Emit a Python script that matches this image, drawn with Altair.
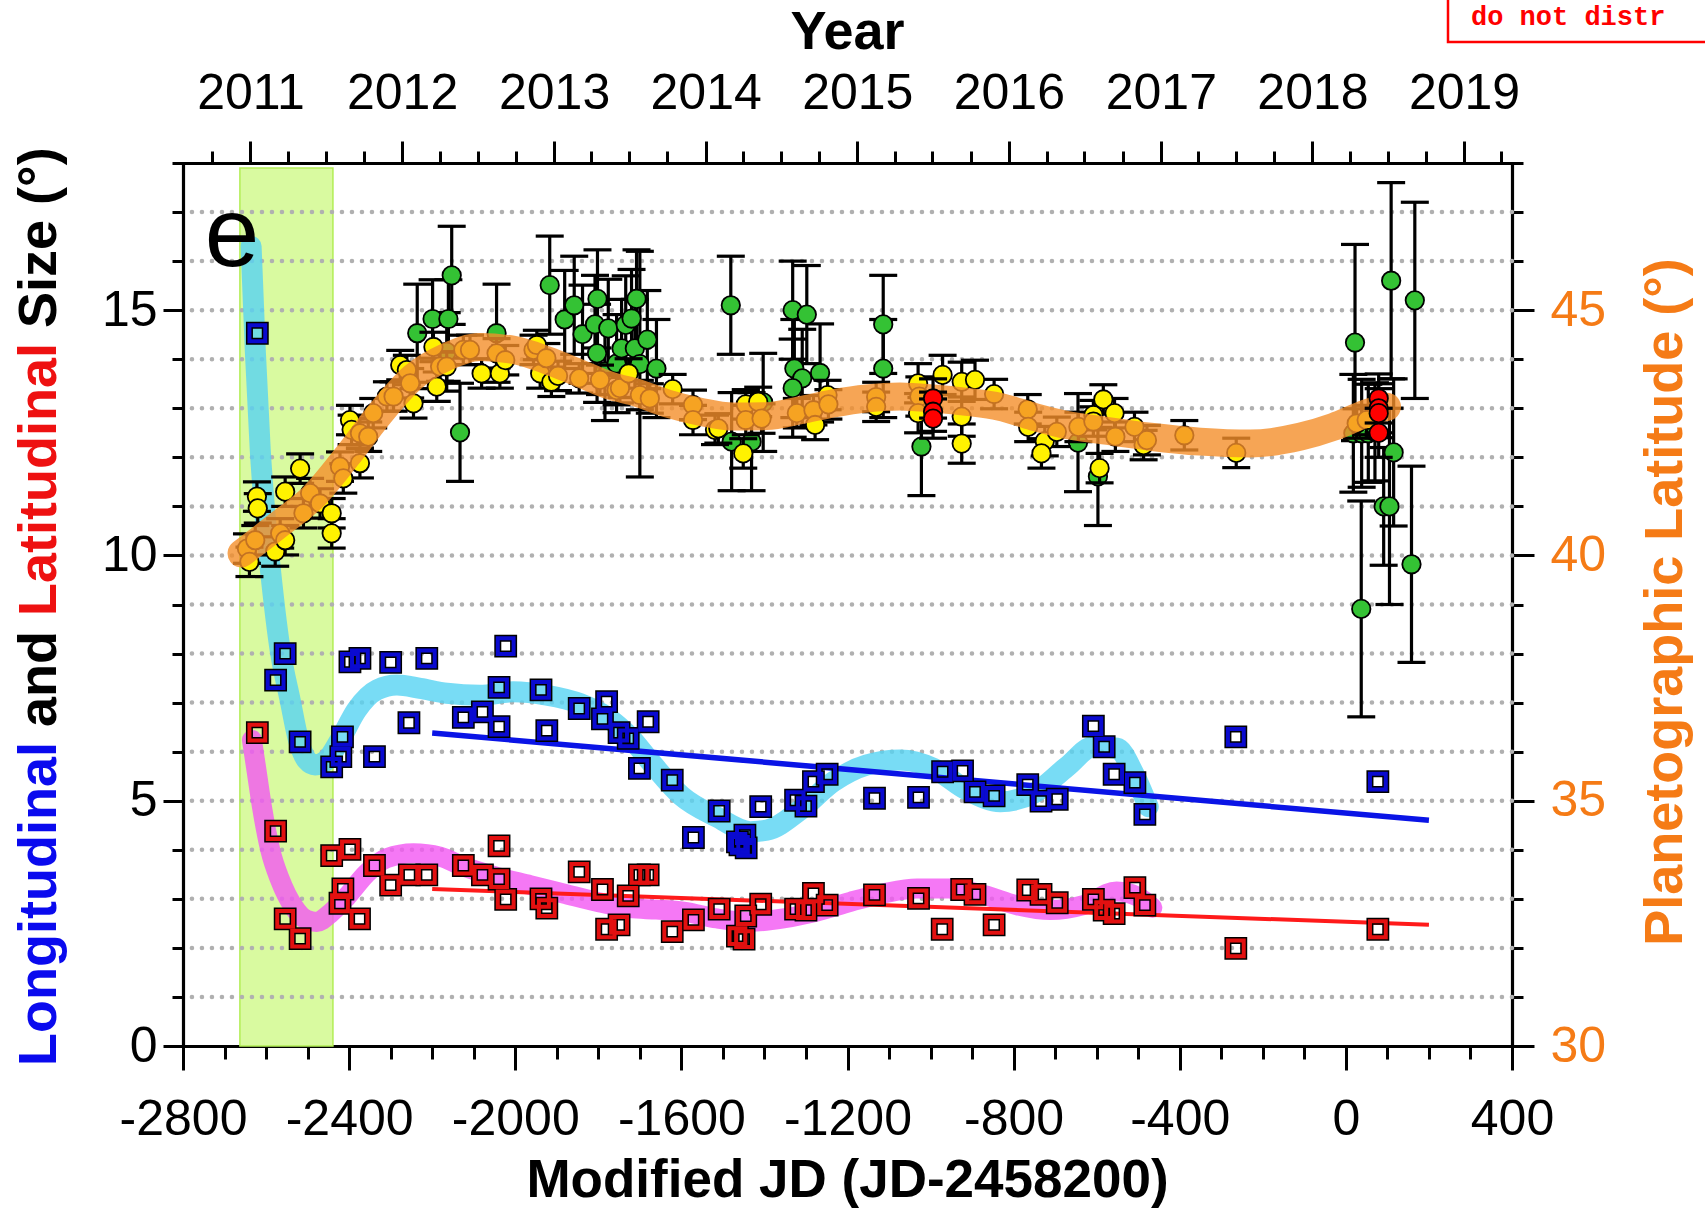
import altair as alt
import pandas as pd
from datetime import datetime

# ---------------------------------------------------------------
# Time base: "MJD" here is JD - 2458200 (2018-03-22 12:00 UT)
# ---------------------------------------------------------------
EPOCH = datetime(2018, 3, 22, 12)


def to_mjd(d):
    return (d - EPOCH).total_seconds() / 86400.0


YEARS = list(range(2011, 2020))
year_ticks = [to_mjd(datetime(y, 1, 1)) for y in YEARS]
quarter_ticks = [to_mjd(datetime(y, m, 1)) for y in range(2010, 2020) for m in (4, 7, 10)]
top_ticks = sorted(t for t in year_ticks + quarter_ticks if -2800 <= t <= 400)

# ---------------------------------------------------------------
# Longitudinal (blue) and latitudinal (red) size, degrees
# ---------------------------------------------------------------
lon_mjd = [-2621, -2577, -2554, -2518, -2442, -2420, -2416, -2398, -2374, -2339,
           -2300, -2256, -2213, -2125, -2079, -2039, -2039, -2023, -1938, -1924,
           -1846, -1790, -1780, -1750, -1728, -1701, -1680, -1622, -1571, -1509,
           -1465, -1459, -1447, -1444, -1409, -1325, -1300, -1282, -1249, -1135,
           -1029, -971, -923, -893, -847, -766, -734, -695, -608, -582,
           -558, -508, -484, -265, 77]
lon_size = [14.53, 7.46, 8.00, 6.20, 5.69, 5.90, 6.30, 7.83, 7.90, 5.90,
            7.82, 6.59, 7.90, 6.70, 6.81, 7.31, 6.51, 8.15, 7.26, 6.43,
            6.88, 6.67, 7.02, 6.39, 6.27, 5.66, 6.61, 5.42, 4.25, 4.79,
            4.16, 4.10, 4.30, 4.04, 4.88, 5.01, 4.89, 5.39, 5.54, 5.05,
            5.07, 5.59, 5.61, 5.18, 5.10, 5.33, 4.99, 5.03, 6.52, 6.10,
            5.54, 5.37, 4.72, 6.30, 5.39]

lat_mjd = [-2621, -2577, -2554, -2518, -2442, -2422, -2415, -2398, -2375, -2339,
           -2300, -2255, -2213, -2125, -2079, -2039, -2039, -2023, -1938, -1924,
           -1846, -1790, -1780, -1750, -1728, -1701, -1680, -1622, -1571, -1509,
           -1465, -1449, -1445, -1409, -1325, -1300, -1282, -1249, -1135, -1029,
           -972, -925, -893, -847, -766, -734, -695, -608, -582, -558,
           -508, -484, -265, 77]
lat_size = [6.39, 4.38, 2.59, 2.19, 3.88, 2.91, 3.20, 4.01, 2.59, 3.68,
            3.28, 3.49, 3.49, 3.68, 3.49, 4.08, 3.40, 2.99, 3.00, 2.81,
            3.55, 3.19, 2.38, 2.47, 3.06, 3.49, 3.49, 2.33, 2.57, 2.79,
            2.24, 2.18, 2.65, 2.89, 2.79, 2.77, 3.11, 2.87, 3.08, 3.01,
            2.38, 3.19, 3.09, 2.47, 3.18, 3.09, 2.92, 2.99, 2.77, 2.70,
            3.23, 2.87, 1.99, 2.38]

# smoothed trends of the sizes
lon_fit_mjd = [-2636, -2626, -2614, -2602, -2586, -2566, -2542, -2522, -2502, -2482,
               -2454, -2422, -2382, -2333, -2285, -2229, -2165, -2085, -2005, -1924,
               -1844, -1780, -1724, -1670, -1600, -1515, -1434, -1394, -1314, -1234,
               -1153, -1073, -993, -913, -832, -752, -672, -608, -551, -511, -476]
lon_fit_val = [16.30, 14.19, 12.15, 10.79, 9.43, 8.07, 7.05, 6.24, 5.83, 5.73,
               5.83, 6.24, 6.85, 7.26, 7.36, 7.29, 7.19, 7.15, 7.22, 7.15,
               6.98, 6.71, 6.30, 5.75, 5.10, 4.67, 4.37, 4.40, 4.81, 5.39,
               5.73, 5.83, 5.66, 5.22, 4.98, 5.15, 5.69, 6.10, 6.07, 5.56, 4.88]

lat_fit_mjd = [-2634, -2622, -2610, -2590, -2566, -2534, -2502, -2478, -2446, -2406,
               -2358, -2309, -2245, -2181, -2125, -2045, -1964, -1884, -1804, -1724,
               -1660, -1595, -1514, -1434, -1354, -1274, -1193, -1113, -1033, -953,
               -872, -792, -712, -632, -552, -500, -466]
lat_fit_val = [6.24, 5.56, 4.88, 4.00, 3.38, 2.84, 2.57, 2.53, 2.70, 3.04,
               3.52, 3.83, 3.93, 3.86, 3.66, 3.45, 3.28, 3.11, 2.94, 2.81,
               2.78, 2.74, 2.60, 2.53, 2.60, 2.74, 2.94, 3.11, 3.21, 3.21,
               3.08, 2.87, 2.77, 2.87, 3.15, 3.04, 2.82]

# linear trends
lon_trend_mjd = [-2200, 200]
lon_trend_val = [6.38, 4.60]
lat_trend_mjd = [-2200, 200]
lat_trend_val = [3.20, 2.47]

# highlighted interval
span_mjd = [-2663, -2439]

# ---------------------------------------------------------------
# Planetographic latitude, degrees
# ---------------------------------------------------------------
yel_mjd = [-2646, -2640, -2626, -2622, -2620, -2578, -2566, -2554, -2554, -2518,
           -2510, -2494, -2470, -2442, -2442, -2422, -2414, -2398, -2394, -2374,
           -2374, -2354, -2342, -2309, -2293, -2277, -2261, -2253, -2245, -2197,
           -2189, -2181, -2165, -2125, -2109, -2081, -2045, -2037, -2024, -1956,
           -1948, -1940, -1925, -1913, -1897, -1846, -1796, -1756, -1748, -1727,
           -1700, -1676, -1621, -1572, -1572, -1519, -1511, -1451, -1445, -1415,
           -1445, -1407, -1322, -1282, -1278, -1248, -1246, -1131, -1131, -1030,
           -1027, -1030, -971, -925, -893, -925, -925, -847, -766, -765,
           -725, -733, -696, -644, -608, -584, -557, -608, -555, -509,
           -487, -479, -593, -389, -264, 26, 50]
yel_lat = [40.14, 39.87, 40.31, 41.20, 40.96, 40.08, 40.45, 41.30, 40.31, 41.77,
           40.86, 41.27, 41.06, 40.86, 40.45, 41.81, 41.57, 42.76, 42.56, 41.88,
           42.49, 42.42, 42.90, 43.24, 43.24, 43.88, 43.78, 43.51, 43.10, 44.25,
           43.44, 43.85, 43.85, 44.19, 44.19, 43.71, 44.12, 43.71, 43.98, 44.19,
           44.29, 43.71, 44.02, 43.54, 43.66, 43.61, 43.58, 43.37, 43.41, 43.71,
           43.27, 43.20, 43.39, 43.07, 42.76, 42.56, 42.59, 42.08, 43.08, 43.13,
           42.76, 42.79, 42.90, 42.96, 42.66, 43.27, 43.08, 43.23, 43.03, 43.51,
           43.24, 42.90, 43.68, 43.54, 43.58, 42.83, 42.28, 43.29, 42.98, 42.62,
           42.33, 42.08, 42.52, 42.62, 42.86, 43.18, 42.90, 42.73, 42.42, 42.62,
           42.25, 42.35, 41.78, 42.45, 42.09, 42.69, 42.76]
yel_err = [0.30] * 69 + [0.40] * 8 + [0.30] * 20

grn_mjd = [-2236, -2199, -2161, -2165, -2153, -2133, -2045, -1917, -1881, -1858,
           -1838, -1808, -1802, -1803, -1784, -1776, -1756, -1744, -1734, -1720,
           -1708, -1712, -1700, -1682, -1660, -1481, -1479, -1431, -1403, -1332,
           -1298, -1328, -1309, -1332, -1266, -1114, -1114, -1022, -645, -597,
           18, 38, 54, 70, 22, 37, 91, 105, 109, 115, 158, 166]
grn_lat = [44.53, 44.82, 44.82, 44.15, 45.71, 42.51, 44.53, 45.51, 44.81, 45.10,
           44.51, 44.71, 45.23, 44.12, 43.75, 44.63, 43.91, 44.22, 44.70, 44.83,
           45.23, 44.22, 43.90, 44.40, 43.81, 45.10, 42.32, 42.32, 43.12, 45.00,
           44.91, 43.81, 43.61, 43.41, 43.72, 44.71, 43.81, 42.22, 42.30, 41.61,
           42.49, 42.49, 42.49, 42.52, 44.34, 38.91, 41.00, 41.00, 45.60, 42.10,
           39.82, 45.20]
grn_err = [1.0, 0.8, 0.8, 0.8, 1.0, 1.0, 1.0, 1.0, 1.0, 1.0,
           1.0, 1.0, 1.0, 1.0, 1.0, 1.0, 1.0, 1.0, 1.0, 1.0,
           1.0, 1.0, 2.3, 1.0, 1.0, 1.0, 1.0, 1.0, 1.0, 1.0,
           1.0, 1.0, 1.0, 1.0, 1.0, 1.0, 1.0, 1.0, 1.0, 1.0,
           1.2, 1.1, 1.0, 1.0, 2.0, 2.2, 1.2, 2.0, 2.0, 1.5,
           2.0, 2.0]

red_mjd = [-994, -994, -994, 79, 79, 79, 79]
red_lat = [43.20, 42.93, 42.79, 43.20, 43.00, 42.90, 42.50]
red_err = [0.40, 0.40, 0.40, 0.50, 0.50, 0.50, 0.50]

lat_curve_mjd = [-2659, -2566, -2486, -2406, -2325, -2245, -2165, -2085, -2004, -1924,
                 -1844, -1764, -1716, -1635, -1555, -1475, -1395, -1314, -1234, -1154,
                 -1074, -993, -913, -833, -753, -672, -592, -471, -351, -230,
                 -110, -30, 50, 99]
lat_curve_val = [40.04, 40.65, 41.20, 42.01, 42.90, 43.64, 44.05, 44.25, 44.19, 43.98,
                 43.71, 43.44, 43.34, 43.10, 42.93, 42.83, 42.84, 42.96, 43.10, 43.20,
                 43.24, 43.20, 43.13, 43.03, 42.83, 42.66, 42.56, 42.42, 42.32, 42.28,
                 42.42, 42.62, 42.90, 43.03]

# ---------------------------------------------------------------
# Layout / styling
# ---------------------------------------------------------------
W, H = 1329, 883
FONT = "Liberation Sans"
ORANGE = "#f57b16"
BLUE = "#0a0aee"
RED = "#ee1111"

xs = alt.Scale(domain=[-2800, 400], nice=False, zero=False)
ys_left = alt.Scale(domain=[0, 18], nice=False, zero=False)
ys_right = alt.Scale(domain=[30, 48], nice=False, zero=False)

year_list = "[" + ",".join(repr(t) for t in year_ticks) + "]"

bottom_axis = alt.Axis(
    orient="bottom", title=None,
    values=list(range(-2800, 401, 100)),
    labelExpr="datum.value % 400 === 0 ? toString(datum.value) : ''",
    tickSize={"condition": {"test": "datum.value % 400 === 0", "value": 24}, "value": 13},
    labelPadding=24, labelFlush=False, labelOverlap=False,
)
top_axis = alt.Axis(
    orient="top", title=None,
    values=top_ticks,
    labelExpr=f"indexof({year_list}, datum.value) >= 0 ? toString({YEARS[0]} + indexof({year_list}, datum.value)) : ''",
    tickSize={"condition": {"test": f"indexof({year_list}, datum.value) >= 0", "value": 22}, "value": 12},
    labelPadding=23, labelFlush=False, labelOverlap=False,
)
left_axis = alt.Axis(
    orient="left", title=None,
    values=list(range(0, 19)),
    labelExpr="datum.value % 5 === 0 ? toString(datum.value) : ''",
    tickSize={"condition": {"test": "datum.value % 5 === 0", "value": 20}, "value": 11},
    labelPadding=6, labelFlush=False, labelOverlap=False,
)
right_axis = alt.Axis(
    orient="right", title=None,
    values=list(range(30, 49)),
    labelExpr="datum.value % 5 === 0 ? toString(datum.value) : ''",
    tickSize={"condition": {"test": "datum.value % 5 === 0", "value": 22}, "value": 11},
    labelPadding=16, labelFlush=False, labelOverlap=False, labelColor=ORANGE,
)


def xl(field="mjd"):
    return alt.X(f"{field}:Q", scale=xs, axis=bottom_axis)


def xr(field="mjd"):
    return alt.X(f"{field}:Q", scale=xs, axis=top_axis)


def yl(field):
    return alt.Y(f"{field}:Q", scale=ys_left, axis=left_axis)


def yr(field):
    return alt.Y(f"{field}:Q", scale=ys_right, axis=right_axis)


# ---------------------------------------------------------------
# Left-axis group: sizes
# ---------------------------------------------------------------
span_df = pd.DataFrame({"x0": [span_mjd[0]], "x1": [span_mjd[1]], "y0": [0.0], "y1": [17.9]})
grid_df = pd.DataFrame({"g": list(range(1, 18))})
lon_df = pd.DataFrame({"mjd": lon_mjd, "v": lon_size})
lat_df = pd.DataFrame({"mjd": lat_mjd, "v": lat_size})
lon_fit_df = pd.DataFrame({"mjd": lon_fit_mjd, "v": lon_fit_val})
lat_fit_df = pd.DataFrame({"mjd": lat_fit_mjd, "v": lat_fit_val})
lon_tr_df = pd.DataFrame({"mjd": lon_trend_mjd, "v": lon_trend_val})
lat_tr_df = pd.DataFrame({"mjd": lat_trend_mjd, "v": lat_trend_val})

span = alt.Chart(span_df).mark_rect(fill="#d9faa0", stroke="#b2ee55", strokeWidth=1.5).encode(
    x=xl("x0"), x2="x1:Q", y=yl("y0"), y2="y1:Q")

grid = alt.Chart(grid_df).mark_rule(
    color="#b0b0b0", strokeWidth=4.5, strokeDash=[0.1, 9.9], strokeCap="round"
).encode(y=yl("g"))

lon_fit = alt.Chart(lon_fit_df).mark_line(
    color="#56d3f2", strokeWidth=21, opacity=0.8, interpolate="monotone", strokeCap="round"
).encode(x=xl(), y=yl("v"))
lat_fit = alt.Chart(lat_fit_df).mark_line(
    color="#f256f2", strokeWidth=20, opacity=0.8, interpolate="monotone", strokeCap="round"
).encode(x=xl(), y=yl("v"))

lon_tr = alt.Chart(lon_tr_df).mark_line(color="#0a14e6", strokeWidth=5.5).encode(x=xl(), y=yl("v"))
lat_tr = alt.Chart(lat_tr_df).mark_line(color="#ff1a1a", strokeWidth=4).encode(x=xl(), y=yl("v"))


def squares(df, colour):
    base = alt.Chart(df)
    edge = base.mark_point(shape="square", filled=False, size=250, strokeWidth=7,
                           color="black", opacity=1).encode(x=xl(), y=yl("v"))
    core = base.mark_point(shape="square", filled=False, size=250, strokeWidth=4,
                           color=colour, opacity=1).encode(x=xl(), y=yl("v"))
    return edge + core


lon_pts = squares(lon_df, "#0a0ad0")
lat_pts = squares(lat_df, "#e21010")

# left axis title in three colours, reading bottom to top
title_parts = [("Longitudinal", BLUE, 903), ("and", "black", 564),
               ("Latitudinal", RED, 453), ("Size (°)", "black", 165)]
left_title = [
    alt.Chart(pd.DataFrame({"t": [txt]})).mark_text(
        font=FONT, fontWeight="bold", fontSize=54, angle=270, align="left",
        baseline="middle", color=col
    ).encode(text="t:N", x=alt.value(-143), y=alt.value(ypos))
    for txt, col, ypos in title_parts
]

bottom_title = alt.Chart(pd.DataFrame({"t": ["Modified JD (JD-2458200)"]})).mark_text(
    font=FONT, fontWeight="bold", fontSize=53, align="center", baseline="middle", color="black"
).encode(text="t:N", x=alt.value(W / 2), y=alt.value(1018))

panel_tag = alt.Chart(pd.DataFrame({"t": ["e"]})).mark_text(
    font=FONT, fontSize=98, align="center", baseline="alphabetic", color="black"
).encode(text="t:N", x=alt.value(49), y=alt.value(103))

left_group = alt.layer(span, grid, lon_fit, lat_fit, lon_tr, lat_tr, lon_pts, lat_pts,
                       *left_title, bottom_title, panel_tag)

# ---------------------------------------------------------------
# Right-axis group: latitude
# ---------------------------------------------------------------
def err_df(m, v, e):
    return pd.DataFrame({"mjd": m, "lat": v, "lo": [a - b for a, b in zip(v, e)],
                         "hi": [a + b for a, b in zip(v, e)]})


def caps_df(df):
    return pd.concat([df[["mjd"]].assign(c=df["lo"]), df[["mjd"]].assign(c=df["hi"])])


def with_bars(df, fill):
    bars = alt.Chart(df).mark_rule(color="black", strokeWidth=3.2).encode(
        x=xr(), y=yr("lo"), y2="hi:Q")
    caps = alt.Chart(caps_df(df)).mark_tick(
        orient="horizontal", size=28, thickness=3.2, color="black", opacity=1
    ).encode(x=xr(), y=yr("c"))
    dots = alt.Chart(df).mark_circle(
        size=340, fill=fill, stroke="black", strokeWidth=1.8, opacity=1
    ).encode(x=xr(), y=yr("lat"))
    return bars, caps, dots


g_bars, g_caps, g_dots = with_bars(err_df(grn_mjd, grn_lat, grn_err), "#34c234")
y_bars, y_caps, y_dots = with_bars(err_df(yel_mjd, yel_lat, yel_err), "#fff200")
r_bars, r_caps, r_dots = with_bars(err_df(red_mjd, red_lat, red_err), "#ff0000")

lat_curve = alt.Chart(pd.DataFrame({"mjd": lat_curve_mjd, "lat": lat_curve_val})).mark_line(
    color="#f48e2a", strokeWidth=28, opacity=0.8, interpolate="monotone", strokeCap="round"
).encode(x=xr(), y=yr("lat"))

right_title = alt.Chart(pd.DataFrame({"t": ["Planetographic Latitude (°)"]})).mark_text(
    font=FONT, fontWeight="bold", fontSize=54, angle=270, align="center",
    baseline="middle", color=ORANGE
).encode(text="t:N", x=alt.value(1483), y=alt.value(439))

top_title = alt.Chart(pd.DataFrame({"t": ["Year"]})).mark_text(
    font=FONT, fontWeight="bold", fontSize=54, align="center", baseline="middle", color="black"
).encode(text="t:N", x=alt.value(W / 2), y=alt.value(-130))

stamp_box = alt.Chart(pd.DataFrame({"t": [""]})).mark_rect(
    fillOpacity=0, stroke="#ff0000", strokeWidth=2.5
).encode(x=alt.value(1265), x2=alt.value(1700), y=alt.value(-200), y2=alt.value(-121))
stamp_text = alt.Chart(pd.DataFrame({"t": ["do not distr"]})).mark_text(
    font="Liberation Mono", fontWeight="bold", fontSize=27, align="left",
    baseline="alphabetic", color="#ff0000"
).encode(text="t:N", x=alt.value(1288), y=alt.value(-138))

right_group = alt.layer(g_bars, g_caps, g_dots, y_bars, y_caps, y_dots, lat_curve,
                        r_bars, r_caps, r_dots, right_title, top_title, stamp_box, stamp_text)

chart = alt.layer(left_group, right_group).resolve_scale(
    y="independent"
).resolve_axis(
    x="independent", y="independent"
).properties(
    width=W, height=H,
    padding={"left": 183, "top": 163, "right": 193, "bottom": 169},
    autosize=alt.AutoSizeParams(type="none"),
).configure_view(
    strokeWidth=0
).configure_axis(
    grid=False, domainColor="black", domainWidth=3.2, domainCap="square",
    tickColor="black", tickWidth=3,
    labelFont=FONT, labelFontSize=50, labelColor="black",
)

chart.save("out.html", embed_options={"renderer": "svg", "actions": False})
